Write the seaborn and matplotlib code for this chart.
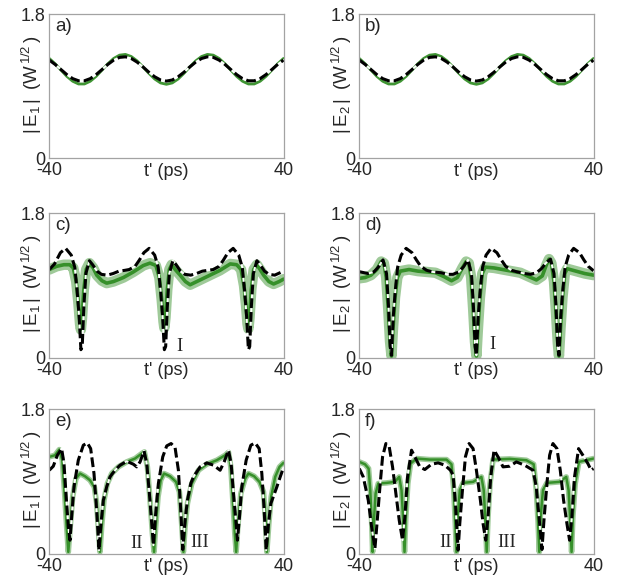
import matplotlib
matplotlib.use("Agg")
import matplotlib.pyplot as plt
import seaborn as sns

# ---------------------------------------------------------------- data
# time axis t' (ps) and field moduli |E| (W^1/2)

# panels a) and b): weak modulation, simulation (dashed) and measurement (green)
t_ab = list(range(-40, 41, 2))
sim_ab = [1.225, 1.171, 1.107, 1.044, 0.994, 0.967, 0.967, 0.994, 1.044, 1.107,
          1.171, 1.225, 1.259, 1.266, 1.245, 1.200, 1.140, 1.074, 1.017, 0.977,
          0.963, 0.977, 1.017, 1.074, 1.140, 1.200, 1.245, 1.266, 1.259, 1.225,
          1.171, 1.107, 1.044, 0.994, 0.967, 0.967, 0.994, 1.044, 1.107, 1.171,
          1.225]
meas_ab = [1.246, 1.179, 1.100, 1.022, 0.961, 0.927, 0.927, 0.961, 1.022, 1.100,
           1.179, 1.246, 1.287, 1.296, 1.270, 1.215, 1.140, 1.060, 0.989, 0.940,
           0.923, 0.940, 0.989, 1.060, 1.140, 1.215, 1.270, 1.296, 1.287, 1.246,
           1.179, 1.100, 1.022, 0.961, 0.927, 0.927, 0.961, 1.022, 1.100, 1.179,
           1.246]

# panel c): |E1|
t_sim_c = [-40, -38.2, -36.2, -34.4, -32.5, -31.3, -30.5, -29.8, -29.2, -28.75,
           -28.2, -27.5, -26.3, -25.2, -23.7, -22.2, -20.2, -18.2, -16.2, -14.2,
           -12.7, -10.7, -9.2, -7.7, -5.9, -4.0, -2.8, -2.0, -1.3, -0.7,
           -0.25, 0.3, 1.0, 2.2, 3.3, 4.8, 6.3, 8.3, 10.3, 12.3,
           14.2, 16.0, 18.0, 19.5, 21.0, 22.8, 24.7, 25.9, 26.7, 27.4,
           28.0, 28.45, 29.0, 29.7, 30.9, 32.0, 33.5, 35.0, 37.0, 40.0]
sim_c = [1.10, 1.17, 1.31, 1.364, 1.28, 1.13, 0.84, 0.51, 0.10, 0.14,
         0.63, 1.05, 1.21, 1.16, 1.08, 1.04, 1.03, 1.05, 1.08, 1.09,
         1.10, 1.14, 1.22, 1.31, 1.364, 1.28, 1.13, 0.84, 0.51, 0.10,
         0.14, 0.63, 1.05, 1.21, 1.16, 1.08, 1.04, 1.03, 1.05, 1.08,
         1.09, 1.10, 1.14, 1.22, 1.31, 1.364, 1.28, 1.13, 0.84, 0.51,
         0.10, 0.14, 0.63, 1.05, 1.21, 1.16, 1.08, 1.04, 1.03, 1.08]
t_meas_c = [-40, -37.5, -35, -33, -31.8, -30.8, -30.1, -29.5, -29.2, -28.8,
            -28.2, -27.4, -26.3, -25.0, -23.8, -22.0, -20.4, -18.1, -14.7, -11.3,
            -7.9, -5.6, -3.6, -2.4, -1.6, -1.0, -0.7, -0.3, 0.3, 1.0,
            1.8, 3.0, 4.7, 6.5, 8.1, 11.5, 14.9, 18.3, 21.8, 24.0,
            25.5, 26.5, 27.2, 27.7, 28.0, 28.4, 29.0, 29.8, 30.9, 32.0,
            33.2, 35.0, 36.6, 38.5, 40.0]
meas_c = [1.10, 1.14, 1.16, 1.16, 1.12, 0.95, 0.70, 0.42, 0.35, 0.50,
          0.85, 1.10, 1.18, 1.12, 1.03, 0.96, 0.93, 0.95, 1.00, 1.07,
          1.15, 1.18, 1.15, 1.00, 0.72, 0.45, 0.37, 0.50, 0.85, 1.10,
          1.16, 1.10, 1.03, 0.95, 0.91, 0.97, 1.03, 1.09, 1.17, 1.16,
          1.10, 0.90, 0.65, 0.42, 0.36, 0.50, 0.85, 1.10, 1.16, 1.10,
          1.03, 0.95, 0.92, 0.95, 0.98]

# panel d): |E2|
t_sim_d = [-40, -37, -35, -33.5, -31.9, -30.7, -30.0, -29.45, -29.0, -28.4,
           -27.7, -26.9, -25.7, -24.0, -22.0, -20.5, -19.0, -17.0, -15.0, -12.0,
           -10.0, -8.0, -6.0, -4.5, -2.9, -1.7, -1.0, -0.45, 0.0, 0.6,
           1.3, 2.1, 3.3, 5.0, 7.0, 8.5, 10.0, 12.0, 14.0, 16.5,
           18.5, 20.5, 22.2, 23.7, 25.3, 26.5, 27.2, 27.75, 28.2, 28.8,
           29.5, 30.3, 31.5, 33.2, 35.2, 36.7, 38.2, 40.0]
sim_d = [1.073, 1.05, 1.07, 1.13, 1.22, 1.05, 0.63, 0.14, 0.03, 0.51,
         0.84, 1.13, 1.28, 1.364, 1.31, 1.22, 1.14, 1.09, 1.07, 1.06,
         1.04, 1.04, 1.07, 1.13, 1.22, 1.05, 0.63, 0.14, 0.03, 0.51,
         0.84, 1.13, 1.28, 1.364, 1.31, 1.22, 1.14, 1.09, 1.07, 1.05,
         1.04, 1.06, 1.11, 1.18, 1.23, 1.05, 0.63, 0.14, 0.03, 0.51,
         0.84, 1.13, 1.28, 1.364, 1.31, 1.22, 1.14, 1.085]
t_meas_d = [-40, -38, -36, -34, -32.5, -31.6, -30.8, -30.1, -29.5, -29.0,
            -28.5, -27.8, -27.0, -26.0, -23, -20, -17, -14, -11, -8.5,
            -6.5, -4.8, -3.5, -2.6, -1.8, -1.1, -0.5, 0.0, 0.5, 1.2,
            2.0, 3.0, 6.0, 9.0, 12.0, 15.0, 18.0, 20.5, 22.5, 23.8,
            24.8, 25.6, 26.5, 27.2, 27.8, 28.2, 28.7, 29.4, 30.2, 31.0,
            34.0, 37.0, 40.0]
meas_d = [0.99, 1.00, 1.03, 1.10, 1.20, 1.18, 1.00, 0.60, 0.20, 0.02,
          0.35, 0.75, 1.00, 1.08, 1.10, 1.08, 1.07, 1.06, 1.01, 0.96,
          1.00, 1.12, 1.20, 1.18, 1.00, 0.60, 0.20, 0.02, 0.35, 0.75,
          1.05, 1.13, 1.12, 1.10, 1.08, 1.06, 1.01, 0.97, 1.02, 1.15,
          1.23, 1.18, 0.95, 0.55, 0.18, 0.02, 0.35, 0.75, 1.05, 1.11,
          1.08, 1.05, 1.03]

# panel e): |E1|
t_sim_e = [-40.0, -38.63, -37.26, -35.78, -34.99, -34.07, -33.50, -32.93, -32.36, -31.57,
           -30.09, -28.38, -27.01, -25.87, -24.73, -23.82, -23.02, -22.34, -21.54, -20.40,
           -19.26, -17.55, -15.84, -13.56, -11.28, -10.14, -9.00, -7.64, -6.72, -5.81,
           -5.01, -4.44, -3.76, -2.74, -1.25, 0.11, 1.60, 2.96, 4.10, 4.90,
           5.58, 6.38, 7.18, 8.32, 9.23, 11.51, 13.79, 16.07, 18.35, 19.72,
           21.20, 22.11, 22.91, 23.70, 24.27, 24.96, 25.75, 27.24, 28.83, 30.31,
           31.68, 32.59, 33.39, 34.07, 34.87, 35.67, 37.72, 38.86, 40.0]
sim_e = [1.039, 1.089, 1.226, 1.309, 1.122, 0.624, 0.333, 0.166, 0.457, 0.831,
         1.164, 1.351, 1.380, 1.309, 0.998, 0.540, 0.042, 0.374, 0.665, 0.831,
         0.956, 1.039, 1.102, 1.151, 1.114, 1.081, 1.143, 1.280, 1.122, 0.748,
         0.374, 0.104, 0.457, 0.873, 1.206, 1.343, 1.372, 1.322, 1.039, 0.540,
         0.050, 0.416, 0.665, 0.873, 0.956, 1.081, 1.131, 1.102, 1.039, 1.143,
         1.289, 1.122, 0.748, 0.416, 0.166, 0.457, 0.831, 1.164, 1.351, 1.380,
         1.309, 0.998, 0.540, 0.042, 0.374, 0.624, 0.831, 0.956, 1.073]
t_meas_e = [-40.0, -38.06, -36.58, -35.56, -34.76, -34.07, -33.50, -32.93, -32.02, -30.88,
            -29.52, -27.81, -26.10, -24.62, -23.82, -23.13, -22.68, -22.11, -21.31, -20.17,
            -18.69, -16.41, -13.56, -10.71, -8.43, -7.52, -6.50, -5.58, -4.79, -4.22,
            -3.65, -2.85, -1.94, -0.80, 1.25, 3.30, 4.44, 5.13, 5.81, 6.38,
            7.18, 8.66, 10.94, 13.79, 17.21, 20.06, 21.20, 22.00, 22.68, 23.36,
            23.82, 24.39, 25.41, 26.89, 28.03, 29.97, 31.79, 33.16, 33.85, 34.30,
            34.99, 35.78, 37.15, 38.63, 40.0]
meas_e = [1.206, 1.226, 1.297, 1.164, 0.748, 0.333, 0.020, 0.291, 0.707, 0.935,
          0.998, 0.964, 0.915, 0.831, 0.624, 0.249, 0.020, 0.333, 0.665, 0.873,
          0.998, 1.081, 1.143, 1.185, 1.247, 1.268, 1.081, 0.665, 0.249, 0.020,
          0.333, 0.707, 0.915, 0.998, 0.964, 0.894, 0.769, 0.416, 0.020, 0.333,
          0.624, 0.873, 1.039, 1.114, 1.164, 1.226, 1.264, 1.081, 0.665, 0.249,
          0.020, 0.333, 0.748, 0.935, 0.998, 0.964, 0.894, 0.769, 0.416, 0.020,
          0.374, 0.707, 0.956, 1.081, 1.131]

# panel f): |E2|
t_sim_f = [-40.00, -38.64, -36.93, -35.80, -34.66, -33.86, -32.95, -32.05, -30.91, -29.77,
           -28.64, -27.50, -26.36, -25.23, -24.43, -23.52, -22.16, -21.02, -19.32, -17.61,
           -15.34, -13.07, -10.80, -8.86, -7.95, -7.16, -6.59, -6.25, -5.68, -4.77,
           -3.75, -2.50, -1.14, 0.00, 1.36, 2.27, 3.18, 3.98, 4.89, 6.02,
           7.39, 9.09, 11.36, 13.64, 16.48, 19.32, 20.45, 21.59, 22.39, 23.07,
           24.09, 25.00, 26.14, 27.50, 28.64, 29.77, 30.91, 31.82, 32.61, 33.52,
           34.89, 36.36, 38.07, 39.20, 40.00]
sim_f = [1.060, 0.956, 0.665, 0.333, 0.062, 0.416, 0.831, 1.206, 1.372, 1.330,
         1.081, 0.748, 0.416, 0.166, 0.457, 0.956, 1.289, 1.206, 1.081, 1.048,
         1.114, 1.131, 1.102, 1.039, 0.977, 0.624, 0.249, 0.042, 0.374, 0.790,
         1.206, 1.372, 1.309, 1.039, 0.665, 0.374, 0.166, 0.457, 0.956, 1.289,
         1.206, 1.081, 1.089, 1.143, 1.102, 1.039, 0.831, 0.374, 0.050, 0.416,
         0.873, 1.226, 1.372, 1.309, 1.039, 0.665, 0.374, 0.166, 0.457, 0.956,
         1.309, 1.226, 1.122, 1.039, 1.060]
t_meas_f = [-40.00, -38.07, -36.82, -36.25, -35.80, -35.45, -35.00, -34.43, -33.52, -30.68,
            -27.84, -26.36, -25.57, -25.00, -24.55, -24.09, -23.41, -22.50, -20.45, -15.91,
            -10.23, -8.52, -7.73, -7.27, -6.82, -6.36, -5.68, -4.55, -1.14, 1.70,
            2.50, 3.07, 3.52, 3.98, 4.66, 5.68, 11.36, 17.05, 19.55, 20.45,
            21.02, 21.48, 21.93, 22.73, 24.09, 28.41, 30.68, 31.48, 32.05, 32.50,
            32.95, 33.75, 35.00, 37.50, 40.00]
meas_f = [1.143, 1.114, 1.060, 0.790, 0.416, 0.020, 0.416, 0.748, 0.873, 0.881,
          0.894, 0.956, 0.790, 0.416, 0.020, 0.457, 0.873, 1.122, 1.185, 1.172,
          1.172, 1.114, 0.790, 0.416, 0.020, 0.457, 0.790, 0.881, 0.894, 0.956,
          0.790, 0.416, 0.020, 0.457, 0.873, 1.172, 1.181, 1.164, 1.114, 0.790,
          0.416, 0.020, 0.457, 0.790, 0.881, 0.894, 0.956, 0.790, 0.416, 0.020,
          0.457, 0.873, 1.143, 1.164, 1.185]

# soliton markers: (t', |E|, label)
marks_c = [(4.6, 0.135, "I")]
marks_d = [(5.4, 0.16, "I")]
marks_e = [(-10.1, 0.13, "II"), (11.3, 0.135, "III")]
marks_f = [(-10.5, 0.14, "II"), (10.2, 0.135, "III")]

# ---------------------------------------------------------------- style
sns.set_style("white")
plt.rcParams["font.family"] = ["Liberation Sans", "DejaVu Sans"]
plt.rcParams["mathtext.fontset"] = "custom"
plt.rcParams["mathtext.rm"] = "Liberation Sans"
plt.rcParams["mathtext.it"] = "Liberation Sans:italic"
plt.rcParams["mathtext.bf"] = "Liberation Sans:bold"

GREEN = "#2b8a1e"
SPINE = "#a3a3a3"
FS = 13.5
TICK_FS = 13

fig = plt.figure(figsize=(6.23, 5.79), dpi=100)

col_x = [0.0791, 0.5767]
row_y = [0.7266, 0.3822, 0.0440]
W, H = 0.3760, 0.2492

panels = [
    ("a)", 1, t_ab, sim_ab, t_ab, meas_ab, [], "thin"),
    ("b)", 2, t_ab, sim_ab, t_ab, meas_ab, [], "thin"),
    ("c)", 1, t_sim_c, sim_c, t_meas_c, meas_c, marks_c, "wide"),
    ("d)", 2, t_sim_d, sim_d, t_meas_d, meas_d, marks_d, "wide"),
    ("e)", 1, t_sim_e, sim_e, t_meas_e, meas_e, marks_e, "mid"),
    ("f)", 2, t_sim_f, sim_f, t_meas_f, meas_f, marks_f, "mid"),
]

for i, (tag, comp, ts, vs, tm, vm, marks, noise) in enumerate(panels):
    ax = fig.add_axes([col_x[i % 2], row_y[i // 2], W, H])

    # measured field: noisy band drawn as a broad translucent trace + core
    if noise == "thin":
        sns.lineplot(x=tm, y=vm, ax=ax, color=GREEN, lw=2.0, alpha=0.9,
                     estimator=None, sort=False)
    else:
        band = 7.5 if noise == "wide" else 4.0
        core = 2.6 if noise == "wide" else 1.8
        sns.lineplot(x=tm, y=vm, ax=ax, color=GREEN, lw=band, alpha=0.45,
                     estimator=None, sort=False, solid_joinstyle="round")
        sns.lineplot(x=tm, y=vm, ax=ax, color=GREEN, lw=core, alpha=0.9,
                     estimator=None, sort=False)

    # simulated field: black dashes with white gaps
    sns.lineplot(x=ts, y=vs, ax=ax, color="white", lw=1.4,
                 estimator=None, sort=False)
    sns.lineplot(x=ts, y=vs, ax=ax, color="black", lw=2.2,
                 linestyle=(0, (3.2, 1.3)), estimator=None, sort=False)

    ax.set_xlim(-40, 40)
    ax.set_ylim(0, 1.8)
    ax.set_xticks([-40, 40])
    ax.set_xticklabels(["-40", "40"])
    ax.set_yticks([0, 1.8])
    ax.set_yticklabels(["0", "1.8"])
    ax.tick_params(length=0, labelsize=TICK_FS)
    ax.tick_params(axis="x", pad=3)
    ax.tick_params(axis="y", pad=2.5)
    for s in ax.spines.values():
        s.set_visible(True)
        s.set_color(SPINE)
        s.set_linewidth(0.9)

    ax.set_xlabel("t' (ps)", fontsize=TICK_FS)
    ax.xaxis.set_label_coords(0.5, -0.03)
    ax.set_ylabel(r"$\mathrm{|\,E_{%d}\,|\;\;(W^{\,1/2}\,)}$" % comp,
                  fontsize=FS, va="center")
    ax.yaxis.set_label_coords(-0.075, 0.51)

    ax.text(0.025, 0.975, tag, transform=ax.transAxes, ha="left", va="top",
            fontsize=FS)
    for (mt, mv, lab) in marks:
        ax.text(mt, mv, lab, ha="center", va="center", fontsize=FS,
                family=["Liberation Serif", "DejaVu Serif"])

fig.savefig("out.png", dpi=100)
